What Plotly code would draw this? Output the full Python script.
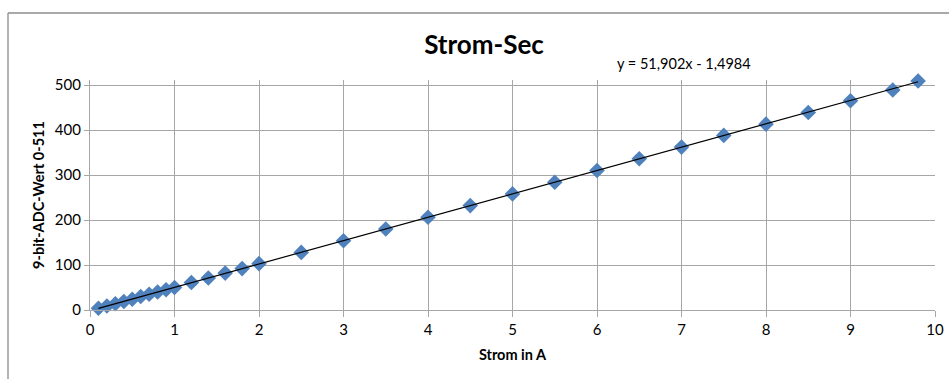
import plotly.graph_objects as go

strom_a = [0.1, 0.2, 0.3, 0.4, 0.5, 0.6, 0.7, 0.8, 0.9, 1.0,
           1.2, 1.4, 1.6, 1.8, 2.0, 2.5, 3.0, 3.5, 4.0, 4.5,
           5.0, 5.5, 6.0, 6.5, 7.0, 7.5, 8.0, 8.5, 9.0, 9.5, 9.8]
adc_wert = [4, 9, 14, 19, 24, 30, 35, 40, 45, 50,
            61, 71, 82, 92, 103, 128, 154, 180, 206, 232,
            258, 284, 310, 336, 362, 388, 413, 439, 465, 489, 509]

trend_slope = 51.902
trend_intercept = -1.4984
trend_x = [strom_a[0], strom_a[-1]]
trend_y = [trend_slope * x + trend_intercept for x in trend_x]

x_ticks = list(range(0, 11))
y_ticks = [0, 100, 200, 300, 400, 500]

FONT = "Lato"
W, H = 949, 379
# pixel positions: x=0 at 90, x=10 at 935, y=0 at 310, y=500 at 85
ml, mr, mb = 90, 14, 69
mt = 80
y_top = 500 + (85 - mt) / (225 / 500)
pw, ph = W - ml - mr, H - mt - mb

fig = go.Figure()
fig.add_trace(go.Scatter(x=strom_a, y=adc_wert, mode="markers",
                         marker=dict(symbol="diamond", size=12, color="#4f81bd",
                                     line=dict(width=0)),
                         cliponaxis=False, showlegend=False))
fig.add_trace(go.Scatter(x=trend_x, y=trend_y, mode="lines",
                         line=dict(color="#000000", width=1.2),
                         showlegend=False, hoverinfo="skip"))

fx = lambda px: (px - ml) / pw
fy = lambda py: (H - mb - py) / ph
frame_col = "#8c8c8c"
shapes = [
    dict(type="line", xref="paper", yref="paper", x0=fx(8), x1=fx(8), y0=fy(H + 5), y1=fy(13),
         line=dict(color=frame_col, width=1.3)),
    dict(type="line", xref="paper", yref="paper", x0=fx(8), x1=fx(W + 5), y0=fy(13), y1=fy(13),
         line=dict(color=frame_col, width=1.3)),
]

fig.update_layout(
    width=W, height=H, autosize=False,
    margin=dict(l=ml, r=mr, t=mt, b=mb, autoexpand=False),
    paper_bgcolor="white", plot_bgcolor="white",
    font=dict(family=FONT, size=15, color="#000000"),
    title=dict(text="<b>Strom-Sec</b>", x=fx(484), xanchor="center", xref="paper",
               y=1 - 45 / H, yanchor="middle", font=dict(family=FONT, size=26, color="#000000")),
    shapes=shapes,
    annotations=[dict(text="y = 51,902x - 1,4984", xref="paper", yref="paper",
                      x=fx(684), y=fy(63), xanchor="center", yanchor="middle",
                      showarrow=False, font=dict(family=FONT, size=14.5, color="#000000"))],
    xaxis=dict(range=[0, 10], tickvals=x_ticks, ticktext=[str(v) for v in x_ticks],
               showgrid=True, gridcolor="#a6a6a6", gridwidth=1, automargin=False,
               showline=True, linecolor="#a6a6a6", linewidth=1.3,
               ticks="outside", ticklen=6, tickcolor="#a6a6a6",
               zeroline=False, tickfont=dict(size=15),
               title=dict(text="<b>Strom in A</b>", font=dict(size=14.5), standoff=12)),
    yaxis=dict(range=[0, y_top], tickvals=y_ticks, ticktext=[str(v) for v in y_ticks],
               showgrid=True, gridcolor="#a6a6a6", gridwidth=1, automargin=False,
               showline=True, linecolor="#a6a6a6", linewidth=1.3,
               ticks="outside", ticklen=5, tickcolor="#a6a6a6",
               zeroline=False, tickfont=dict(size=15),
               title=dict(text="<b>9-bit-ADC-Wert 0-511</b>", font=dict(size=14.5), standoff=6)),
)

fig.write_html("out.html",
               config={"displayModeBar": False, "responsive": False},
               post_script="document.body.style.margin='0';document.body.style.overflow='hidden';")
